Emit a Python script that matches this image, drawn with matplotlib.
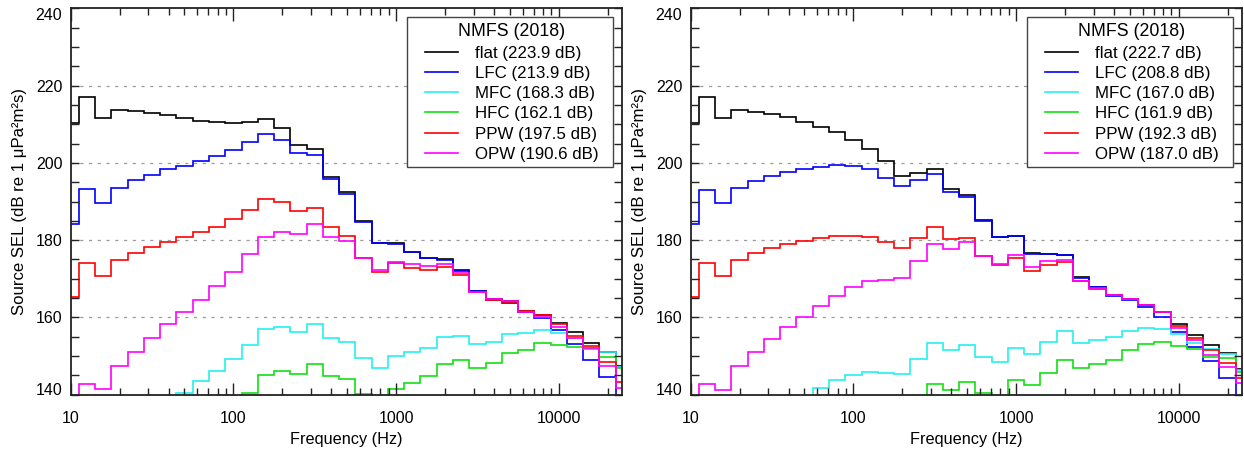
import numpy as np
import matplotlib
matplotlib.use("Agg")
import matplotlib.pyplot as plt
from matplotlib.ticker import FixedLocator, NullFormatter, FixedFormatter
from matplotlib.lines import Line2D
from matplotlib.patches import Rectangle

plt.rcParams['font.family'] = ['Liberation Sans', 'DejaVu Sans']

band_centers_hz = [10, 12.5, 16, 20, 25, 31.5, 40, 50, 63, 80, 100, 125, 160, 200, 250,
                   315, 400, 500, 630, 800, 1000, 1250, 1600, 2000, 2500, 3150, 4000,
                   5000, 6300, 8000, 10000, 12500, 16000, 20000, 25000]

series_names = ["flat", "LFC", "MFC", "HFC", "PPW", "OPW"]
series_colors = ["#000000", "#0000ff", "#22f0f0", "#11e011", "#ff0000", "#ff00ff"]

# ---- left panel ----
flat_L = [210.3, 217.1, 211.5, 213.7, 213.4, 213.0, 212.5, 211.7, 210.9, 210.5, 210.2, 210.6,
          211.3, 208.9, 204.5, 203.5, 196.3, 192.4, 184.9, 179.3, 179.2, 177.0, 175.4, 175.2,
          172.3, 166.9, 164.8, 164.2, 161.7, 160.6, 158.6, 156.1, 153.3, 151.1, 147.3]
lfc_L = [184.3, 193.2, 189.7, 193.6, 195.6, 196.9, 198.3, 199.3, 200.6, 201.9, 203.3, 205.5,
         207.5, 205.9, 202.6, 202.0, 195.7, 192.0, 184.8, 179.2, 179.1, 176.9, 175.3, 174.9,
         172.1, 166.8, 164.6, 163.8, 161.4, 159.8, 156.7, 153.0, 149.0, 144.7, 138.0]
mfc_L = [125.0, 128.0, 130.0, 132.0, 134.0, 136.0, 138.0, 140.5, 143.6, 146.2, 149.3, 152.9,
         156.9, 157.5, 156.1, 158.3, 154.6, 153.6, 149.4, 146.9, 150.0, 151.1, 152.2, 155.0,
         155.3, 153.0, 153.7, 155.7, 156.0, 156.8, 155.9, 154.8, 152.2, 151.0, 147.1]
hfc_L = [110.0, 113.0, 116.0, 119.0, 122.0, 125.0, 128.0, 131.0, 134.0, 136.0, 138.5, 140.5,
         145.1, 146.2, 145.4, 147.9, 144.9, 144.1, 140.2, 139.0, 141.5, 143.1, 144.8, 147.9,
         149.0, 146.8, 148.1, 150.7, 151.6, 153.3, 152.8, 152.4, 151.7, 149.8, 147.0]
ppw_L = [165.4, 174.2, 170.7, 174.8, 176.6, 178.1, 179.6, 180.9, 182.2, 183.5, 185.5, 187.9,
         190.6, 189.9, 187.5, 188.4, 183.5, 181.0, 175.5, 171.8, 174.0, 172.7, 172.3, 173.1,
         171.0, 166.5, 164.6, 164.0, 161.7, 160.5, 158.3, 155.2, 152.6, 148.5, 143.4]
opw_L = [136.0, 142.8, 141.4, 147.5, 151.1, 154.8, 158.2, 161.3, 164.5, 168.1, 171.8, 176.4,
         180.9, 182.2, 181.6, 184.2, 180.9, 179.8, 175.4, 172.2, 174.4, 173.8, 173.3, 173.9,
         171.5, 166.5, 164.7, 164.3, 161.4, 160.2, 157.6, 154.6, 152.0, 147.5, 141.8]
labels_L = ["flat (223.9 dB)", "LFC (213.9 dB)", "MFC (168.3 dB)", "HFC (162.1 dB)",
            "PPW (197.5 dB)", "OPW (190.6 dB)"]

# ---- right panel ----
flat_R = [210.3, 217.1, 211.5, 213.7, 213.2, 212.6, 211.8, 210.7, 209.3, 207.9, 205.9, 203.7,
          200.4, 196.7, 197.4, 198.3, 193.2, 191.7, 185.1, 180.8, 181.1, 176.6, 176.4, 176.2,
          170.4, 167.9, 165.8, 164.8, 163.2, 161.5, 158.3, 155.4, 152.8, 150.7, 146.7]
lfc_R = [184.3, 193.1, 189.5, 193.6, 195.3, 196.7, 197.7, 198.3, 199.0, 199.4, 199.1, 198.4,
         196.2, 194.0, 195.6, 197.0, 192.5, 191.2, 185.0, 180.8, 181.1, 176.5, 176.4, 176.1,
         170.1, 167.8, 165.6, 164.5, 162.8, 160.2, 156.3, 152.4, 148.6, 144.4, 138.0]
mfc_R = [122.0, 125.0, 127.0, 129.0, 131.0, 133.0, 135.0, 137.5, 141.8, 143.8, 145.0, 145.9,
         145.6, 145.3, 149.2, 153.3, 151.5, 152.9, 149.8, 148.5, 152.0, 150.5, 153.6, 156.4,
         153.5, 154.1, 154.9, 156.6, 157.3, 157.1, 155.7, 153.5, 151.7, 150.5, 146.5]
hfc_R = [108.0, 111.0, 114.0, 117.0, 120.0, 123.0, 126.0, 129.0, 131.0, 133.0, 135.0, 136.5,
         137.5, 138.5, 139.3, 142.8, 141.3, 143.4, 140.4, 139.2, 143.7, 142.5, 145.6, 149.1,
         146.8, 147.9, 149.1, 151.6, 153.0, 153.6, 152.5, 151.8, 149.8, 149.5, 146.0]
ppw_R = [165.4, 174.2, 170.7, 174.8, 176.6, 177.9, 179.0, 179.8, 180.5, 181.1, 181.2, 180.8,
         179.5, 177.9, 180.5, 183.4, 180.2, 180.5, 175.8, 173.6, 175.3, 172.1, 173.6, 174.3,
         169.3, 167.3, 165.7, 164.8, 163.1, 161.4, 157.8, 154.8, 151.6, 148.3, 144.3]
opw_R = [136.0, 142.8, 141.2, 147.4, 151.0, 154.4, 157.4, 160.2, 162.9, 165.5, 167.8, 169.4,
         169.8, 170.1, 174.6, 179.1, 177.6, 179.4, 175.8, 173.8, 176.1, 173.1, 174.7, 174.8,
         169.5, 167.5, 165.8, 164.8, 163.3, 161.3, 157.2, 154.1, 150.4, 147.1, 143.1]
labels_R = ["flat (222.7 dB)", "LFC (208.8 dB)", "MFC (167.0 dB)", "HFC (161.9 dB)",
            "PPW (192.3 dB)", "OPW (187.0 dB)"]

legend_title = "NMFS (2018)"
x_label = "Frequency (Hz)"
y_label = "Source SEL (dB re 1 \u03bcPa\u00b2m\u00b2s)"
x_major_ticks = [10, 100, 1000, 10000]
x_major_labels = ["10", "100", "1000", "10000"]
y_major_ticks = [140, 160, 180, 200, 220, 240]

# exact one-third-octave (base-10) band edges
n_idx = np.round(10 * np.log10(np.array(band_centers_hz, dtype=float)))
edges = 10 ** (np.append(n_idx - 0.5, n_idx[-1] + 0.5) / 10)

FS = 11.5
LFS = 12.2
fig = plt.figure(figsize=(12.44, 4.55), dpi=100)
W, H = 1244.0, 455.0
AX_W_PX = 551.6
AX_H_PX = 386.4
ax_b = (H - 394.7) / H
axL = fig.add_axes([70.7 / W, ax_b, AX_W_PX / W, AX_H_PX / H])
axR = fig.add_axes([690.7 / W, ax_b, AX_W_PX / W, AX_H_PX / H])


def draw(ax, data, labels):
    for vals, col in zip(data, series_colors):
        ax.stairs(vals, edges, baseline=None, color=col, lw=1.2)
    ax.set_xscale('log')
    ax.set_xlim(10, 24600)
    ax.set_ylim(140, 240)
    for g in [160, 180, 200, 220]:
        ax.axhline(g, color='#9a9a9a', lw=0.9, ls=(0, (2.5, 4.5)), zorder=0)
    ax.xaxis.set_major_locator(FixedLocator(x_major_ticks))
    ax.xaxis.set_major_formatter(FixedFormatter(x_major_labels))
    minors = [m * d for d in [10, 100, 1000, 10000] for m in range(2, 10)]
    ax.xaxis.set_minor_locator(FixedLocator(minors))
    ax.xaxis.set_minor_formatter(NullFormatter())
    ax.yaxis.set_major_locator(FixedLocator(y_major_ticks))
    ax.yaxis.set_minor_locator(FixedLocator(list(range(140, 241, 5))))
    ax.tick_params(which='both', direction='in', top=True, right=True, width=1.0,
                   color='#222222')
    ax.tick_params(axis='x', which='major', length=9, pad=12, labelsize=FS)
    ax.tick_params(axis='x', which='minor', length=5)
    ax.tick_params(axis='y', which='major', length=6, pad=6, labelsize=FS)
    ax.tick_params(axis='y', which='minor', length=6)
    for sp in ax.spines.values():
        sp.set_linewidth(1.3)
        sp.set_color('#222222')
    ax.set_xlabel(x_label, fontsize=11.7, labelpad=4)
    ax.set_ylabel(y_label, fontsize=12.1, labelpad=6)
    tl = ax.get_yticklabels()
    tl[0].set_verticalalignment('baseline')
    tl[-1].set_verticalalignment('top')

    # legend frame (pixel layout of the reference box, converted to axes fraction)
    bx0 = (407.3 - 70.7) / AX_W_PX
    bx1 = (612.7 - 70.7) / AX_W_PX
    by1 = 1 - (16.7 - 8.3) / AX_H_PX
    by0 = 1 - (166.7 - 8.3) / AX_H_PX
    ax.add_patch(Rectangle((bx0, by0), bx1 - bx0, by1 - by0, transform=ax.transAxes,
                           facecolor='white', edgecolor='#444444', lw=1.0, zorder=4))
    handles = [Line2D([], [], color=c, lw=1.2) for c in series_colors]
    leg = ax.legend(handles, labels, title=legend_title, loc='upper left',
                    bbox_to_anchor=((420.0 - 70.7) / AX_W_PX, by1 - 1.5 / AX_H_PX),
                    borderaxespad=0, frameon=False, fontsize=LFS, title_fontsize=12.8,
                    handlelength=1.95, handletextpad=1.0, labelspacing=0.31,
                    borderpad=0.3)
    leg.set_zorder(5)


draw(axL, [flat_L, lfc_L, mfc_L, hfc_L, ppw_L, opw_L], labels_L)
draw(axR, [flat_R, lfc_R, mfc_R, hfc_R, ppw_R, opw_R], labels_R)

fig.savefig("out.png", dpi=100)
